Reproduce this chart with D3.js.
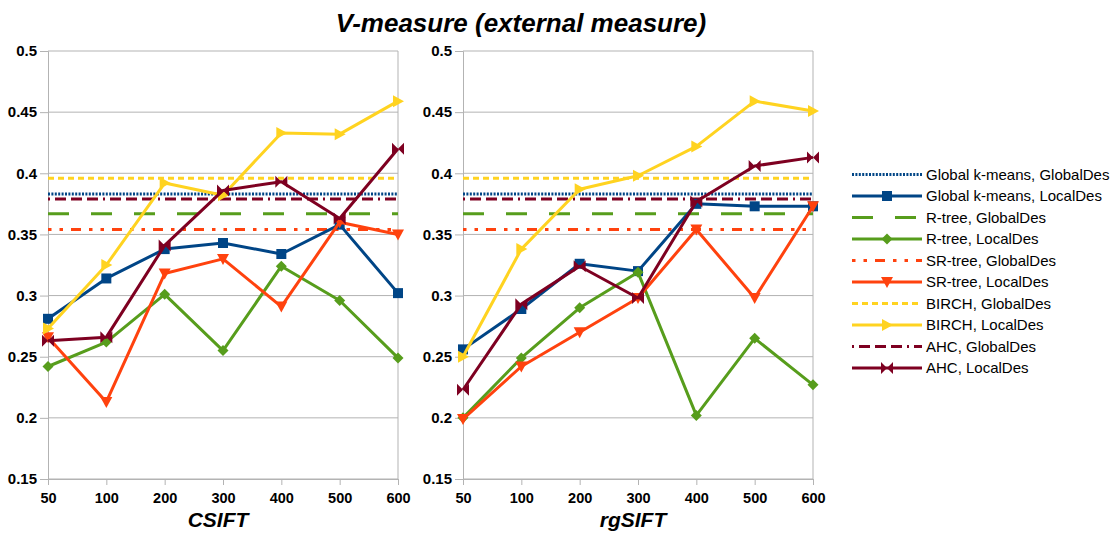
<!DOCTYPE html>
<html lang="en">
<head>
<meta charset="UTF-8">
<title>V-measure (external measure)</title>
<style>
  body { margin: 0; background: #fff; font-family: "Liberation Sans", Arial, sans-serif; }
  .tick text { font-weight: bold; fill: #000; }
  .grid line { stroke: #b3b3b3; }
</style>
</head>
<body>
<svg id="chart" width="1113" height="533"></svg>
<script src="https://d3js.org/d3.v7.min.js"></script>
<script>
// categories and tick labels
const clusterSizes = ["50", "100", "200", "300", "400", "500", "600"];
const yTicks = [0.15, 0.2, 0.25, 0.3, 0.35, 0.4, 0.45, 0.5];
const methods = ["Global k-means", "R-tree", "SR-tree", "BIRCH", "AHC"];

// GlobalDes results (one value per method, flat across the x axis)
const globalDes = [0.383, 0.367, 0.354, 0.396, 0.379];

// LocalDes results, CSIFT
const kmeansCsift = [0.281, 0.314, 0.338, 0.343, 0.334, 0.358, 0.302];
const rtreeCsift  = [0.242, 0.262, 0.301, 0.255, 0.324, 0.296, 0.249];
const srtreeCsift = [0.266, 0.213, 0.318, 0.330, 0.291, 0.360, 0.350];
const birchCsift  = [0.273, 0.325, 0.392, 0.382, 0.433, 0.432, 0.459];
const ahcCsift    = [0.263, 0.266, 0.341, 0.386, 0.393, 0.363, 0.420];

// LocalDes results, rgSIFT
const kmeansRgsift = [0.256, 0.289, 0.326, 0.320, 0.375, 0.373, 0.373];
const rtreeRgsift  = [0.200, 0.249, 0.290, 0.319, 0.202, 0.265, 0.227];
const srtreeRgsift = [0.199, 0.242, 0.270, 0.298, 0.354, 0.298, 0.373];
const birchRgsift  = [0.250, 0.338, 0.387, 0.398, 0.422, 0.459, 0.451];
const ahcRgsift    = [0.223, 0.293, 0.324, 0.298, 0.377, 0.406, 0.413];

const colors = ["#004586", "#579d1c", "#ff420e", "#ffd320", "#7e0021"];
const globalDash = ["2,1.4", "21,22", "3.5,8,3.5,8,10,8", "6,4", "2,5,11,5,11,5,11,5"];
const markerType = ["square", "diamond", "down", "right", "bowtie"];

const svg = d3.select("#chart");

function markerPath(type) {
  const p = d3.path();
  if (type === "square") { p.rect(-5, -5, 10, 10); }
  else if (type === "diamond") { p.moveTo(0, -5.5); p.lineTo(5.5, 0); p.lineTo(0, 5.5); p.lineTo(-5.5, 0); p.closePath(); }
  else if (type === "down") { p.moveTo(-6, -5); p.lineTo(6, -5); p.lineTo(0, 6); p.closePath(); }
  else if (type === "right") { p.moveTo(-5, -6); p.lineTo(6, 0); p.lineTo(-5, 6); p.closePath(); }
  else { p.moveTo(-6, -6); p.lineTo(0, 0); p.lineTo(-6, 6); p.closePath(); p.moveTo(6, -6); p.lineTo(0, 0); p.lineTo(6, 6); p.closePath(); }
  return p.toString();
}

const y = d3.scaleLinear().domain([0.15, 0.5]).range([479, 51]);

const panels = [
  { title: "CSIFT", left: 48, right: 398, local: [kmeansCsift, rtreeCsift, srtreeCsift, birchCsift, ahcCsift] },
  { title: "rgSIFT", left: 463, right: 813, local: [kmeansRgsift, rtreeRgsift, srtreeRgsift, birchRgsift, ahcRgsift] }
];

panels.forEach(panel => {
  const x = d3.scalePoint().domain(clusterSizes).range([panel.left, panel.right]);
  const g = svg.append("g");

  // horizontal grid
  g.append("g").attr("class", "grid")
    .selectAll("line").data(yTicks).join("line")
    .attr("x1", panel.left).attr("x2", panel.right)
    .attr("y1", d => y(d)).attr("y2", d => y(d));

  g.append("line").attr("x1", panel.right).attr("x2", panel.right)
    .attr("y1", y(0.5)).attr("y2", y(0.15)).attr("stroke", "#b3b3b3");

  const yAxis = g.append("g").attr("transform", `translate(${panel.left},0)`)
    .call(d3.axisLeft(y).tickValues(yTicks).tickFormat(d3.format("")).tickSize(8).tickPadding(3));
  const xAxis = g.append("g").attr("transform", `translate(0,${y(0.15)})`)
    .call(d3.axisBottom(x).tickSize(6).tickPadding(5));
  [yAxis, xAxis].forEach(a => {
    a.selectAll("path, line").attr("stroke", "#b3b3b3");
  });
  yAxis.selectAll("text").attr("font-size", 15);
  xAxis.selectAll("text").attr("font-size", 14.5).attr("dy", "0.9em");

  g.append("text").attr("x", (panel.left + panel.right) / 2 - 5).attr("y", 527)
    .attr("text-anchor", "middle").attr("font-size", 21).attr("font-weight", "bold")
    .attr("font-style", "italic").text(panel.title);

  const line = d3.line().x((d, i) => x(clusterSizes[i])).y(d => y(d));

  methods.forEach((m, k) => {
    // GlobalDes baseline
    g.append("line")
      .attr("x1", panel.left).attr("x2", panel.right)
      .attr("y1", y(globalDes[k])).attr("y2", y(globalDes[k]))
      .attr("stroke", colors[k]).attr("stroke-width", 3)
      .attr("stroke-dasharray", globalDash[k]);
  });

  methods.forEach((m, k) => {
    const vals = panel.local[k];
    g.append("path").datum(vals)
      .attr("d", line).attr("fill", "none")
      .attr("stroke", colors[k]).attr("stroke-width", 3).attr("stroke-linejoin", "round");
    g.selectAll(null).data(vals).join("path")
      .attr("transform", (d, i) => `translate(${x(clusterSizes[i])},${y(d)})`)
      .attr("d", markerPath(markerType[k]))
      .attr("fill", colors[k]);
  });
});

// title
svg.append("text").attr("x", 521).attr("y", 32).attr("text-anchor", "middle")
  .attr("font-size", 26).attr("font-weight", "bold").attr("font-style", "italic")
  .text("V-measure (external measure)");

// legend
const legend = svg.append("g").attr("transform", "translate(852,0)");
methods.forEach((m, k) => {
  const yGlobal = 174.5 + k * 2 * 21.5;
  const yLocal = yGlobal + 21.5;
  legend.append("line").attr("x1", 0).attr("x2", 70).attr("y1", yGlobal).attr("y2", yGlobal)
    .attr("stroke", colors[k]).attr("stroke-width", 3).attr("stroke-dasharray", globalDash[k]);
  legend.append("text").attr("x", 74).attr("y", yGlobal).attr("dy", "0.35em")
    .attr("font-size", 15).text(`${m}, GlobalDes`);
  legend.append("line").attr("x1", 0).attr("x2", 70).attr("y1", yLocal).attr("y2", yLocal)
    .attr("stroke", colors[k]).attr("stroke-width", 3);
  legend.append("path").attr("transform", `translate(35,${yLocal})`)
    .attr("d", markerPath(markerType[k])).attr("fill", colors[k]);
  legend.append("text").attr("x", 74).attr("y", yLocal).attr("dy", "0.35em")
    .attr("font-size", 15).text(`${m}, LocalDes`);
});
</script>
</body>
</html>
